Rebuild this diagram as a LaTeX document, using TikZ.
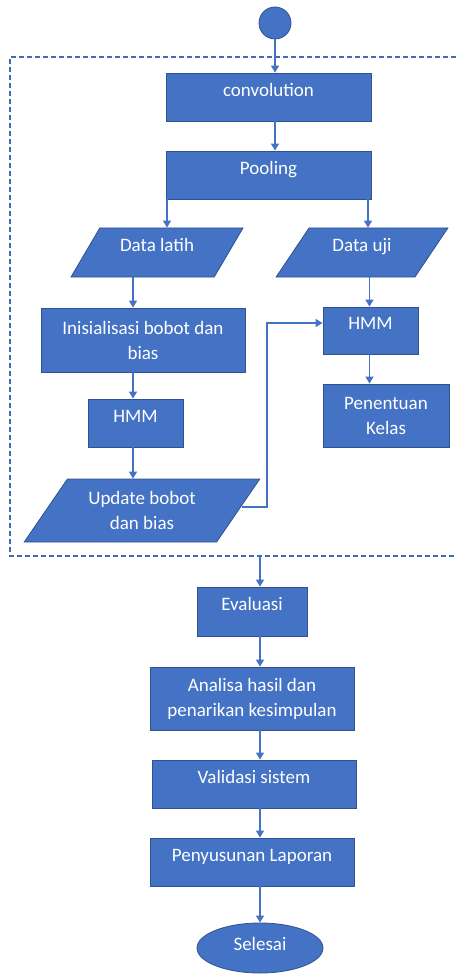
\documentclass[tikz,border=0pt]{standalone}
\usepackage{fontspec}
\setmainfont{Carlito}
\usetikzlibrary{arrows.meta,shapes.geometric}
\definecolor{boxfill}{HTML}{4472C4}
\definecolor{boxline}{HTML}{2F528F}
\definecolor{flow}{HTML}{4472C4}
\definecolor{frame}{HTML}{3E69B3}
\begin{document}
\begin{tikzpicture}[x=1pt,y=-1pt,
  base/.style={fill=boxfill,draw=boxline,line width=0.8pt,text=white,
    font=\fontsize{19}{25}\selectfont,inner sep=2pt,align=center},
  procbox/.style={base,rectangle},
  oneline/.style={text height=11pt,text depth=12.5pt},
  dataio/.style={base,trapezium,trapezium stretches=true},
  arr/.style={draw=flow,line width=1.3pt,-{Triangle[length=7pt,width=8pt]}},
  dashframe/.style={draw=frame,line width=1.1pt,dash pattern=on 5pt off 3pt}
]
\useasboundingbox (0,0) rectangle (456,976);

% grouping frame around the CNN/HMM stage (open on the right)
\draw[dashframe] (456,57) -- (10,57) -- (10,556) -- (456,556);

% start point
\node[circle,fill=boxfill,draw=boxline,line width=0.8pt,minimum size=32pt,inner sep=0pt] (start) at (275,23) {};

% feature extraction
\node[procbox,oneline,minimum width=205pt,minimum height=48pt] (conv) at (268.5,97) {convolution};
\node[procbox,oneline,minimum width=205pt,minimum height=48pt] (pool) at (268.5,175) {Pooling};

% data split
\node[dataio,oneline,minimum width=172pt,minimum height=49pt,
  trapezium left angle=54.5,trapezium right angle=125.5] (latih) at (157,252.5) {Data latih};
\node[dataio,oneline,minimum width=172pt,minimum height=49pt,
  trapezium left angle=54.5,trapezium right angle=125.5] (uji) at (362,252.5) {Data uji};

% training branch
\node[procbox,minimum width=204pt,minimum height=64pt] (init) at (143,340) {Inisialisasi bobot dan\\bias};
\node[procbox,oneline,minimum width=95pt,minimum height=48pt] (hmmL) at (135.5,423) {HMM};
\node[dataio,minimum width=236pt,minimum height=63pt,
  trapezium left angle=52.7,trapezium right angle=127.3] (upd) at (142,510.5) {Update bobot\\dan bias};

% testing branch
\node[procbox,oneline,minimum width=95pt,minimum height=47pt] (hmmR) at (370.5,330.5) {HMM};
\node[procbox,minimum width=126pt,minimum height=63pt] (kelas) at (386,415.5) {Penentuan\\Kelas};

% closing steps
\node[procbox,oneline,minimum width=110pt,minimum height=49pt] (eval) at (252,611.5) {Evaluasi};
\node[procbox,minimum width=204pt,minimum height=63pt] (analisa) at (252,698.5) {Analisa hasil dan\\penarikan kesimpulan};
\node[procbox,oneline,minimum width=204pt,minimum height=48pt] (valid) at (254,784) {Validasi sistem};
\node[procbox,oneline,minimum width=204pt,minimum height=48pt] (susun) at (252,862) {Penyusunan Laporan};
\node[base,ellipse,minimum width=126pt,minimum height=50pt,text height=13pt,text depth=8pt] (selesai) at (260,948) {Selesai};

% connector columns
\coordinate (ltap) at (167,0);
\coordinate (rtap) at (368,0);
\coordinate (lcol) at (133,0);
\coordinate (rcol) at (369.5,0);
\coordinate (loopx) at (267,0);
\coordinate (spine) at (260,556);

% connectors
\draw[arr] (start) -- (start |- conv.north);
\draw[arr] (conv.south -| start) -- (pool.north -| start);
\draw[arr] (pool.south -| ltap) -- (latih.north -| ltap);
\draw[arr] (pool.south -| rtap) -- (uji.north -| rtap);
\draw[arr] (latih.south -| lcol) -- (init.north -| lcol);
\draw[arr] (init.south -| lcol) -- (hmmL.north -| lcol);
\draw[arr] (hmmL.south -| lcol) -- (upd.north -| lcol);
\draw[arr] (uji.south -| rcol) -- (hmmR.north -| rcol);
\draw[arr] (hmmR.south -| rcol) -- (kelas.north -| rcol);
\draw[arr] ([xshift=3pt,yshift=3.5pt]upd.east) -- ([yshift=3.5pt]upd.east -| loopx) |- ([yshift=7.5pt]hmmR.west);
\draw[arr] (spine) -- (spine |- eval.north);
\draw[arr] (eval.south -| spine) -- (analisa.north -| spine);
\draw[arr] (analisa.south -| spine) -- (valid.north -| spine);
\draw[arr] (valid.south -| spine) -- (susun.north -| spine);
\draw[arr] (susun.south -| spine) -- (selesai.north -| spine);
\end{tikzpicture}
\end{document}
